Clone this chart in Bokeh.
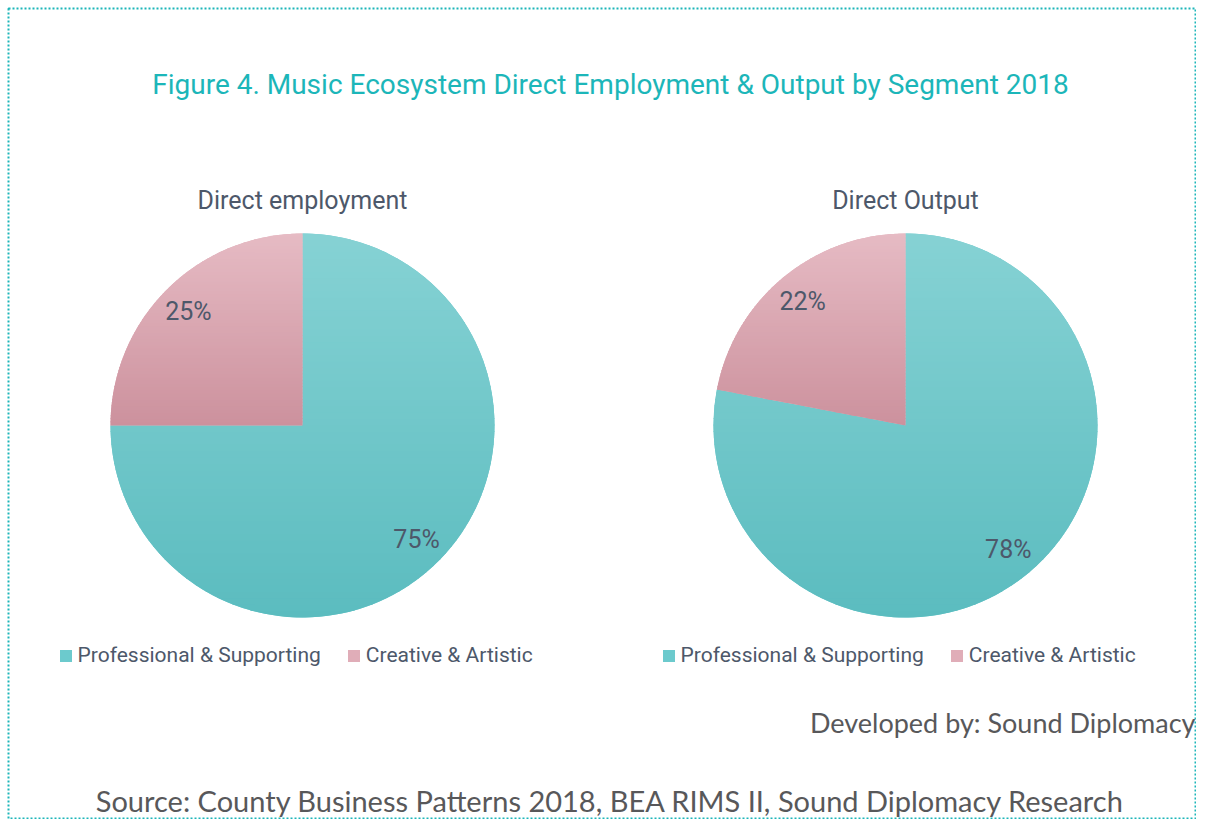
import numpy as np
from bokeh.plotting import figure
from bokeh.models import Range1d, Legend, LegendItem, ColumnDataSource
from bokeh.core.properties import value
from bokeh.embed import file_html
from bokeh.resources import INLINE

# ---------------- data ----------------
title_text = "Figure 4. Music Ecosystem Direct Employment & Output by Segment 2018"
segments = ["Professional & Supporting", "Creative & Artistic"]
employment_share = [75, 25]
output_share = [78, 22]
chart_titles = ["Direct employment", "Direct Output"]
developed_by = "Developed by: Sound Diplomacy"
source_note = "Source: County Business Patterns 2018, BEA RIMS II, Sound Diplomacy Research"

# ---------------- style ----------------
TEAL = "#1cb6b9"
LABEL = "#4d586a"
FOOT = "#58585a"
FONT = "Roboto"
FOOT_FONT = "Lato"
seg_top = ["#86d2d4", "#e6bbc4"]
seg_bottom = ["#5bbcbf", "#cc919d"]
seg_mid = ["#6ccacd", "#e0adb8"]

W, H = 1196, 819
p = figure(width=W, height=H, x_range=Range1d(8, 1195), y_range=Range1d(17, 827),
           output_backend="svg", toolbar_location=None,
           min_border_left=8, min_border_right=1, min_border_top=8, min_border_bottom=1)
p.axis.visible = False
p.grid.visible = False
p.background_fill_color = "white"
p.border_fill_color = "white"
p.outline_line_color = TEAL
p.outline_line_dash = "2 2"
p.outline_line_width = 2


def Y(page_y):
    return 835 - page_y


def clip(poly, yv, keep_above):
    out = []
    n = len(poly)
    for i in range(n):
        a = poly[i]
        b = poly[(i + 1) % n]
        ina = a[1] >= yv if keep_above else a[1] <= yv
        inb = b[1] >= yv if keep_above else b[1] <= yv
        if ina:
            out.append(a)
        if ina != inb:
            t = (yv - a[1]) / (b[1] - a[1])
            out.append((a[0] + t * (b[0] - a[0]), yv))
    return out


def mix(c1, c2, t):
    a = [int(c1[i:i + 2], 16) for i in (1, 3, 5)]
    b = [int(c2[i:i + 2], 16) for i in (1, 3, 5)]
    return "#%02x%02x%02x" % tuple(int(round(a[k] + (b[k] - a[k]) * t)) for k in range(3))


def draw_pie(cx, cy, r, shares, title):
    fr = np.array(shares, dtype=float) / sum(shares)
    bounds = np.pi / 2 - 2 * np.pi * np.concatenate([[0], np.cumsum(fr)])
    starts = bounds[1:]
    ends = bounds[:-1]
    src = ColumnDataSource(dict(start=starts, end=ends, color=seg_mid, seg=segments))
    rend = p.wedge(x=cx, y=cy, radius=r, start_angle="start", end_angle="end",
                   fill_color="color", line_color=None, source=src)
    # vertical gradient overlay for each slice
    bx, by, bc = [], [], []
    for i in range(len(shares)):
        th = np.linspace(starts[i], ends[i], 200)
        poly = [(cx, cy)] + [(cx + r * np.cos(t), cy + r * np.sin(t)) for t in th]
        ys = [q[1] for q in poly]
        ymin, ymax = min(ys), max(ys)
        nb = 60
        step = (ymax - ymin) / nb
        for k in range(nb):
            lo = ymin + k * step
            hi = min(ymax, lo + step + 1.0)
            part = clip(clip(poly, lo, True), hi, False)
            if len(part) < 3:
                continue
            bx.append([q[0] for q in part])
            by.append([q[1] for q in part])
            tmid = (ymax - (lo + step / 2)) / (ymax - ymin)
            bc.append(mix(seg_top[i], seg_bottom[i], tmid))
    p.patches(bx, by, fill_color=bc, line_color=None)
    # percentage labels
    mids = (starts + ends) / 2
    p.text(x=cx + 0.84 * r * np.cos(mids), y=cy + 0.84 * r * np.sin(mids),
           text=[f"{s}%" for s in shares], text_align="center", text_baseline="middle",
           text_font=value(FONT), text_font_size="25px", text_color=LABEL)
    p.text(x=[cx], y=[Y(200)], text=[title], text_align="center", text_baseline="middle",
           text_font=value(FONT), text_font_size="25px", text_color=LABEL)
    return rend


R = 192
r1 = draw_pie(302, Y(425), R, employment_share, chart_titles[0])
r2 = draw_pie(905, Y(425), R, output_share, chart_titles[1])

for rend, lx in ((r1, 49.5), (r2, 652.5)):
    lg = Legend(items=[LegendItem(label=segments[0], renderers=[rend], index=0),
                       LegendItem(label=segments[1], renderers=[rend], index=1)],
                location=(lx, 151), orientation="horizontal",
                glyph_width=15, glyph_height=15, label_standoff=5, spacing=25,
                padding=0, margin=0, border_line_color=None, background_fill_alpha=0,
                label_text_font=FONT, label_text_font_size="21px", label_text_color=LABEL)
    p.add_layout(lg)

p.text(x=[610], y=[Y(84)], text=[title_text], text_align="center", text_baseline="middle",
       text_font=value(FONT), text_font_size="28px", text_color=TEAL)
p.text(x=[1195], y=[Y(722)], text=[developed_by], text_align="right", text_baseline="middle",
       text_font=value(FOOT_FONT), text_font_size="27px", text_color=FOOT)
p.text(x=[610], y=[Y(800)], text=[source_note], text_align="center", text_baseline="middle",
       text_font=value(FOOT_FONT), text_font_size="29px", text_color=FOOT)

open("out.html", "w").write(file_html(p, INLINE))
